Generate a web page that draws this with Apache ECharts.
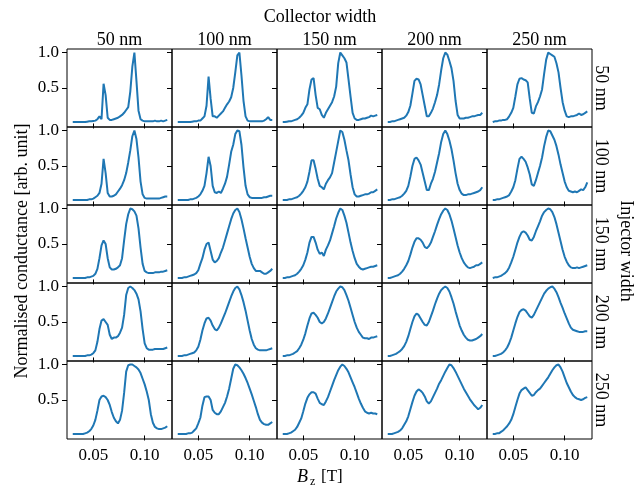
<!DOCTYPE html>
<html>
<head>
<meta charset="utf-8">
<script src="https://cdn.jsdelivr.net/npm/echarts@6/dist/echarts.min.js"></script>
<style>
  html, body { margin: 0; padding: 0; background: #fff; }
  #chart { width: 641px; height: 486px; }
</style>
</head>
<body>
<div id="chart"></div>
<script>
// Magnetic field sweep B_z [T], shared by every panel
const bField = [0.030,0.032,0.034,0.036,0.038,0.040,0.042,0.044,0.046,0.048,
  0.050,0.052,0.054,0.056,0.058,0.060,0.062,0.064,0.066,0.068,
  0.070,0.072,0.074,0.076,0.078,0.080,0.082,0.084,0.086,0.088,
  0.090,0.092,0.094,0.096,0.098,0.100,0.102,0.104,0.106,0.108,
  0.110,0.112,0.114,0.116,0.118,0.120,0.122];

const collectorWidths = ['50 nm', '100 nm', '150 nm', '200 nm', '250 nm'];
const injectorWidths = ['50 nm', '100 nm', '150 nm', '200 nm', '250 nm'];
const xTicks = [0.05, 0.10];
const yTicks = [0.5, 1.0];

// Normalised conductance, injector 50 nm
const inj50_col50  = [.02,.02,.02,.02,.02,.02,.02,.025,.03,.03,.035,.04,.06,.10,.06,.56,.40,.08,.05,.05,.06,.07,.08,.10,.12,.15,.19,.23,.45,.80,1.0,.60,.18,.06,.04,.03,.03,.03,.03,.03,.04,.03,.03,.04,.03,.04,.05];
const inj50_col100 = [.02,.02,.02,.02,.02,.02,.02,.025,.03,.03,.04,.04,.07,.10,.25,.66,.35,.10,.10,.08,.11,.14,.17,.22,.27,.31,.37,.50,.72,.96,1.0,.68,.32,.10,.04,.03,.03,.03,.03,.03,.03,.03,.04,.06,.09,.05,.05];
const inj50_col150 = [.02,.02,.025,.03,.03,.04,.05,.06,.08,.11,.15,.22,.27,.48,.62,.64,.40,.22,.20,.12,.08,.15,.20,.25,.30,.38,.52,.85,1.0,.96,.92,.86,.62,.38,.15,.07,.05,.05,.06,.07,.07,.08,.09,.11,.10,.11,.12];
const inj50_col200 = [.02,.02,.03,.03,.04,.05,.06,.07,.08,.11,.16,.25,.42,.60,.63,.62,.55,.40,.25,.10,.10,.15,.21,.30,.40,.55,.75,.92,1.0,.97,.88,.78,.60,.32,.12,.07,.07,.07,.08,.08,.09,.10,.10,.11,.12,.12,.15];
const inj50_col250 = [.02,.03,.03,.04,.04,.05,.05,.06,.10,.15,.22,.38,.55,.63,.64,.62,.61,.58,.35,.15,.14,.24,.30,.38,.48,.70,.90,1.0,.98,.96,.94,.85,.72,.50,.30,.18,.10,.09,.10,.10,.11,.12,.14,.12,.13,.15,.17];

// Normalised conductance, injector 100 nm
const inj100_col50  = [.02,.02,.02,.02,.02,.02,.02,.02,.03,.03,.04,.06,.08,.12,.25,.60,.40,.12,.07,.07,.08,.10,.14,.18,.23,.30,.40,.55,.72,.92,1.0,.88,.62,.28,.10,.05,.04,.04,.04,.04,.04,.04,.04,.05,.06,.07,.07];
const inj100_col100 = [.02,.02,.02,.02,.02,.02,.03,.03,.04,.05,.07,.10,.15,.22,.40,.63,.50,.22,.13,.12,.14,.12,.18,.25,.35,.52,.70,.80,.95,1.0,.99,.80,.48,.22,.10,.06,.05,.05,.05,.05,.05,.05,.06,.06,.07,.08,.08];
const inj100_col150 = [.02,.02,.02,.03,.03,.04,.05,.06,.08,.11,.15,.20,.28,.42,.58,.58,.46,.32,.22,.20,.17,.25,.30,.34,.40,.55,.70,.85,1.0,.98,.87,.72,.58,.38,.20,.10,.07,.07,.08,.09,.10,.10,.11,.13,.13,.15,.17];
const inj100_col200 = [.02,.02,.03,.03,.04,.05,.06,.08,.11,.15,.22,.35,.50,.60,.62,.58,.52,.40,.28,.16,.16,.25,.32,.42,.55,.68,.84,.95,1.0,.95,.86,.74,.58,.40,.25,.16,.11,.09,.09,.10,.10,.11,.12,.13,.14,.16,.20];
const inj100_col250 = [.02,.02,.03,.03,.04,.05,.06,.07,.09,.14,.20,.30,.46,.60,.63,.60,.56,.48,.38,.24,.22,.30,.40,.50,.62,.78,.91,1.0,.99,.93,.87,.78,.66,.52,.40,.28,.20,.15,.14,.13,.14,.13,.15,.17,.16,.20,.27];

// Normalised conductance, injector 150 nm
const inj150_col50  = [.02,.02,.02,.02,.02,.02,.02,.03,.03,.04,.05,.08,.15,.30,.48,.55,.50,.30,.17,.14,.14,.15,.17,.20,.30,.55,.78,.92,1.0,.99,.96,.90,.72,.45,.22,.12,.10,.09,.09,.09,.10,.10,.10,.11,.11,.12,.13];
const inj150_col100 = [.02,.02,.02,.03,.03,.04,.05,.06,.07,.09,.13,.22,.30,.42,.50,.52,.40,.28,.24,.26,.30,.38,.45,.55,.65,.75,.85,.93,.98,1.0,.95,.85,.72,.58,.45,.32,.22,.16,.12,.12,.12,.10,.08,.08,.10,.12,.15];
const inj150_col150 = [.02,.02,.03,.03,.04,.05,.06,.08,.11,.15,.20,.28,.38,.52,.60,.60,.52,.42,.36,.38,.33,.42,.48,.55,.65,.75,.86,.94,1.0,.98,.90,.80,.66,.52,.40,.30,.22,.18,.15,.14,.15,.16,.17,.18,.18,.19,.20];
const inj150_col200 = [.02,.02,.03,.04,.05,.06,.08,.11,.15,.20,.26,.35,.45,.53,.58,.58,.56,.52,.46,.44,.47,.52,.60,.68,.77,.85,.92,.97,1.0,.98,.92,.83,.72,.60,.48,.38,.30,.24,.20,.17,.16,.17,.18,.20,.20,.22,.24];
const inj150_col250 = [.02,.03,.03,.04,.05,.07,.09,.12,.17,.24,.32,.42,.52,.60,.66,.68,.66,.62,.56,.55,.60,.68,.75,.82,.90,.95,.98,1.0,.99,.95,.88,.78,.66,.54,.42,.32,.25,.20,.17,.16,.16,.17,.16,.17,.18,.19,.20];

// Normalised conductance, injector 200 nm
const inj200_col50  = [.02,.02,.02,.02,.02,.02,.02,.03,.03,.04,.06,.10,.22,.40,.52,.54,.50,.46,.32,.26,.28,.28,.30,.35,.42,.60,.88,.98,1.0,.98,.95,.90,.82,.65,.40,.20,.13,.11,.11,.11,.12,.12,.12,.12,.12,.13,.14];
const inj200_col100 = [.02,.02,.02,.03,.03,.04,.05,.06,.07,.10,.15,.25,.38,.48,.55,.56,.52,.45,.40,.38,.42,.48,.55,.62,.70,.78,.86,.93,.98,1.0,.96,.88,.78,.66,.52,.38,.26,.18,.13,.11,.10,.10,.10,.10,.11,.12,.13];
const inj200_col150 = [.02,.02,.03,.03,.04,.05,.07,.09,.13,.18,.25,.34,.45,.55,.62,.63,.60,.56,.50,.48,.50,.55,.62,.70,.78,.86,.93,.97,1.0,.99,.95,.88,.80,.70,.60,.50,.42,.36,.32,.28,.27,.27,.26,.28,.28,.29,.30];
const inj200_col200 = [.02,.02,.03,.04,.05,.07,.09,.12,.16,.22,.30,.40,.50,.58,.62,.60,.55,.50,.46,.45,.50,.58,.66,.75,.83,.90,.95,.98,1.0,.98,.93,.85,.76,.65,.55,.45,.38,.32,.28,.25,.24,.24,.25,.26,.28,.30,.33];
const inj200_col250 = [.02,.02,.03,.04,.05,.07,.10,.14,.20,.28,.38,.48,.57,.64,.67,.68,.66,.62,.58,.56,.60,.66,.72,.78,.84,.90,.94,.97,.99,1.0,.97,.92,.85,.77,.70,.62,.55,.48,.42,.39,.38,.37,.36,.36,.36,.37,.37];

// Normalised conductance, injector 250 nm
const inj250_col50  = [.02,.02,.02,.02,.02,.02,.03,.04,.06,.09,.14,.22,.35,.50,.55,.56,.54,.50,.43,.33,.25,.20,.17,.22,.35,.60,.90,.99,1.0,1.0,.98,.96,.93,.88,.80,.72,.62,.50,.30,.18,.12,.10,.09,.09,.10,.11,.13];
const inj250_col100 = [.02,.02,.02,.02,.02,.03,.03,.04,.07,.10,.17,.25,.42,.54,.55,.55,.50,.36,.32,.30,.30,.34,.40,.46,.55,.66,.80,.94,1.0,.99,.96,.92,.87,.81,.74,.66,.58,.49,.40,.30,.22,.18,.16,.15,.15,.17,.19];
const inj250_col150 = [.02,.02,.02,.03,.04,.06,.08,.12,.18,.24,.34,.45,.53,.58,.61,.61,.59,.52,.46,.44,.43,.48,.54,.62,.70,.78,.85,.92,.97,1.0,.98,.94,.89,.82,.75,.68,.60,.52,.45,.39,.34,.32,.31,.32,.31,.31,.30];
const inj250_col200 = [.02,.02,.02,.03,.04,.05,.07,.10,.15,.20,.27,.37,.47,.56,.62,.65,.63,.60,.55,.48,.45,.48,.54,.60,.66,.73,.78,.84,.90,.95,1.0,.99,.95,.90,.84,.78,.72,.66,.61,.56,.51,.47,.43,.40,.37,.39,.43];
const inj250_col250 = [.02,.02,.03,.03,.05,.07,.10,.13,.17,.22,.30,.40,.50,.59,.64,.66,.68,.64,.60,.56,.57,.61,.64,.66,.70,.74,.78,.82,.87,.92,.96,.99,1.0,.96,.90,.82,.74,.68,.62,.57,.54,.52,.51,.50,.51,.53,.54];

// Rows: injector width, columns: collector width
const panels = [
  [inj50_col50,  inj50_col100,  inj50_col150,  inj50_col200,  inj50_col250],
  [inj100_col50, inj100_col100, inj100_col150, inj100_col200, inj100_col250],
  [inj150_col50, inj150_col100, inj150_col150, inj150_col200, inj150_col250],
  [inj200_col50, inj200_col100, inj200_col150, inj200_col200, inj200_col250],
  [inj250_col50, inj250_col100, inj250_col150, inj250_col200, inj250_col250]
];

// Panel layout (pixels)
const LEFT = 67, TOP = 49, CELL_W = 105, CELL_H = 78;
const X_MIN = 0.0244, X_MAX = 0.1266;
const Y_MIN = -0.05, Y_MAX = 1.05;
const FONT = '"Liberation Serif", "Times New Roman", serif';
const LINE_COLOR = '#1f77b4';

const grids = [], xAxes = [], yAxes = [], series = [];
panels.forEach((row, r) => {
  row.forEach((vals, c) => {
    const idx = grids.length;
    grids.push({
      left: LEFT + c * CELL_W, top: TOP + r * CELL_H,
      width: CELL_W, height: CELL_H,
      show: true, borderColor: '#000', borderWidth: 1,
      backgroundColor: 'transparent', containLabel: false
    });
    xAxes.push({
      type: 'value', gridIndex: idx, min: X_MIN, max: X_MAX,
      axisLine: { show: false },
      splitLine: { show: false },
      axisTick: { show: true, inside: false, length: 5, customValues: xTicks,
        lineStyle: { color: '#000', width: 1 } },
      axisLabel: { show: r === 4, customValues: xTicks, margin: 8,
        color: '#000', fontFamily: FONT, fontSize: 17,
        formatter: v => v.toFixed(2) }
    });
    yAxes.push({
      type: 'value', gridIndex: idx, min: Y_MIN, max: Y_MAX,
      axisLine: { show: false },
      splitLine: { show: false },
      axisTick: { show: true, inside: false, length: 5, customValues: yTicks,
        lineStyle: { color: '#000', width: 1 } },
      axisLabel: { show: c === 0, customValues: yTicks, margin: 8,
        color: '#000', fontFamily: FONT, fontSize: 17,
        formatter: v => v.toFixed(1) }
    });
    series.push({
      type: 'line', xAxisIndex: idx, yAxisIndex: idx,
      data: bField.map((b, i) => [b, vals[i]]),
      showSymbol: false, symbol: 'none',
      lineStyle: { color: LINE_COLOR, width: 2 },
      itemStyle: { color: LINE_COLOR },
      animation: false, silent: true
    });
  });
});

const textFont = size => size + 'px ' + FONT;
const graphics = [];
// figure-level labels are centred on the whole figure
const FIG_CX = 320, FIG_CY = 251;

const centred = (text, x, y, size, rotation) => ({
  type: 'text', x, y, rotation: rotation || 0,
  style: { text, font: textFont(size), fill: '#000', align: 'center', verticalAlign: 'middle' }
});

graphics.push(centred('Collector width', FIG_CX, 17, 18));
collectorWidths.forEach((t, c) => graphics.push(centred(t, LEFT + (c + 0.5) * CELL_W, 40, 18)));
injectorWidths.forEach((t, r) => graphics.push(centred(t, 601, TOP + (r + 0.5) * CELL_H, 18, -Math.PI / 2)));
graphics.push(centred('Injector width', 626, FIG_CY, 18, -Math.PI / 2));
graphics.push(centred('Normalised conductance [arb. unit]', 22, FIG_CY, 18, Math.PI / 2));

// x-axis label: italic B with subscript z, then the unit
graphics.push({ type: 'text', x: 297, y: 477,
  style: { text: 'B', font: 'italic ' + textFont(18), fill: '#000', align: 'left', verticalAlign: 'middle' } });
graphics.push({ type: 'text', x: 310, y: 482,
  style: { text: 'z', font: textFont(12), fill: '#000', align: 'left', verticalAlign: 'middle' } });
graphics.push({ type: 'text', x: 321, y: 477,
  style: { text: '[T]', font: textFont(17), fill: '#000', align: 'left', verticalAlign: 'middle' } });

const chart = echarts.init(document.getElementById('chart'), null, { renderer: 'canvas', width: 641, height: 486 });
chart.setOption({
  backgroundColor: '#fff',
  animation: false,
  grid: grids,
  xAxis: xAxes,
  yAxis: yAxes,
  series: series,
  graphic: graphics
});
</script>
</body>
</html>
